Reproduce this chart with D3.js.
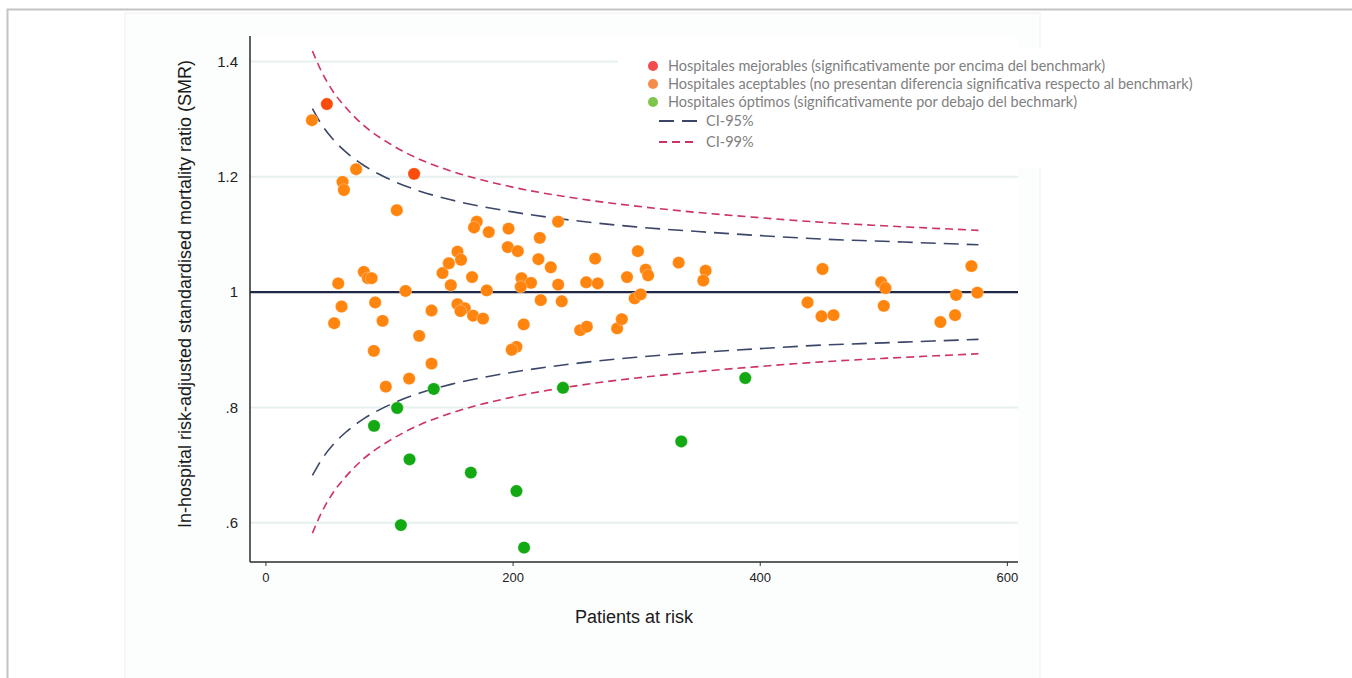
<!DOCTYPE html>
<html>
<head>
<meta charset="utf-8">
<script src="https://cdn.jsdelivr.net/npm/d3@7"></script>
<style>
body { margin: 0; background: #fff; }
.tick text { font-family: "Liberation Sans", Arial, sans-serif; fill: #222; }
.legend text { font-family: Lato, "Open Sans", sans-serif; fill: #7f7f7f; }
</style>
</head>
<body>
<div id="chart"></div>
<script>
//
// Data
//
// [patients at risk, SMR]
var mejorables = [[49.7, 1.326], [120.3, 1.205]];

var aceptables = [
    [37.6, 1.298], [73.4, 1.213], [62.4, 1.191], [63.5, 1.177], [106.3, 1.142],
    [58.9, 1.015], [61.6, 0.975], [55.6, 0.946], [79.6, 1.035], [82.9, 1.024],
    [85.9, 1.024], [88.8, 0.982], [94.8, 0.950], [87.7, 0.898], [97.4, 0.836],
    [113.4, 1.002], [116.3, 0.850], [124.4, 0.924], [134.4, 0.968], [134.4, 0.876],
    [143.3, 1.033], [148.4, 1.050], [155.4, 1.070], [158.3, 1.056], [150.0, 1.012],
    [167.2, 1.026], [155.4, 0.979], [161.3, 0.972], [157.8, 0.967], [168.0, 0.959],
    [176.1, 0.954], [179.1, 1.003], [171.0, 1.122], [168.8, 1.112], [180.7, 1.104],
    [196.7, 1.110], [196.1, 1.078], [204.2, 1.071], [222.0, 1.094], [220.9, 1.057],
    [230.9, 1.043], [236.8, 1.122], [207.2, 1.024], [214.9, 1.016], [206.6, 1.009],
    [236.9, 1.013], [222.8, 0.986], [239.8, 0.984], [209.0, 0.944], [203.1, 0.905],
    [199.3, 0.900], [266.8, 1.058], [259.6, 1.017], [268.9, 1.015], [254.7, 0.934],
    [260.1, 0.940], [284.6, 0.937], [288.4, 0.953], [292.6, 1.026], [298.8, 0.989],
    [303.6, 0.996], [301.4, 1.071], [307.7, 1.039], [309.7, 1.029], [334.4, 1.051],
    [356.2, 1.037], [354.3, 1.020], [450.8, 1.040], [438.7, 0.982], [450.0, 0.958],
    [459.7, 0.960], [498.3, 1.017], [501.7, 1.007], [500.4, 0.976], [571.3, 1.045],
    [558.9, 0.995], [576.1, 0.999], [558.1, 0.960], [546.2, 0.948]
];

var optimos = [
    [136.2, 0.832], [106.6, 0.799], [87.9, 0.768], [116.6, 0.710], [166.2, 0.687],
    [203.1, 0.655], [109.6, 0.596], [209.3, 0.557], [240.8, 0.834], [388.3, 0.851],
    [336.5, 0.741]
];

// funnel limits
var ciN       = [38, 45, 55, 65, 80, 100, 125, 150, 200, 250, 300, 350, 400, 450, 500, 577];
var ci95Upper = [1.318, 1.292, 1.264, 1.243, 1.219, 1.196, 1.175, 1.160, 1.139, 1.124, 1.113, 1.105, 1.098, 1.092, 1.088, 1.082];
var ci95Lower = [0.682, 0.708, 0.736, 0.757, 0.781, 0.804, 0.825, 0.840, 0.861, 0.876, 0.887, 0.895, 0.902, 0.908, 0.912, 0.918];
var ci99Upper = [1.418, 1.384, 1.347, 1.320, 1.288, 1.258, 1.230, 1.210, 1.182, 1.163, 1.149, 1.138, 1.129, 1.121, 1.115, 1.107];
var ci99Lower = [0.582, 0.616, 0.653, 0.680, 0.712, 0.742, 0.770, 0.790, 0.818, 0.837, 0.851, 0.862, 0.871, 0.879, 0.885, 0.893];

var xTicks = [0, 200, 400, 600];
var yTicks = [0.6, 0.8, 1, 1.2, 1.4];
var benchmark = 1;

var legendItems = [
    {label: "Hospitales mejorables (significativamente por encima del benchmark)", color: "#f24b4b"},
    {label: "Hospitales aceptables (no presentan diferencia significativa respecto al benchmark)", color: "#f68b4a"},
    {label: "Hospitales óptimos (significativamente por debajo del bechmark)", color: "#7fc54d"}
];

//
// Global Vars
//
var W = 1352, H = 678;
var margin = {top: 36, right: 334, bottom: 116, left: 250},
    width  = W - margin.left - margin.right,
    height = H - margin.top - margin.bottom;

var blue = "#3b4668", crimson = "#cc3360";

var svg = d3.select("#chart").append("svg")
    .attr("width", W)
    .attr("height", H);

// page frame
svg.append("rect")
    .attr("x", 125).attr("y", 13)
    .attr("width", 915).attr("height", H)
    .attr("fill", "#fcfdfd")
    .attr("stroke", "#eef2f2");
svg.append("path")
    .attr("d", "M7.5," + H + "V9.5H" + W)
    .attr("fill", "none")
    .attr("stroke", "#c4c4c4")
    .attr("stroke-width", 2);

var g = svg.append("g")
    .attr("transform", "translate(" + margin.left + "," + margin.top + ")");

g.append("rect")
    .attr("width", width).attr("height", height)
    .attr("fill", "#fff");

var x = d3.scaleLinear().domain([-12.5, 609]).range([0, width]);
var y = d3.scaleLinear().domain([0.532, 1.444]).range([height, 0]);

// gridlines
g.append("g").selectAll("line")
    .data(yTicks.filter(function(d) { return d != benchmark; }))
    .enter().append("line")
    .attr("x1", 0).attr("x2", width)
    .attr("y1", function(d) { return y(d); })
    .attr("y2", function(d) { return y(d); })
    .attr("stroke", "#e6f0ef")
    .attr("stroke-width", 2);

// legend background hides the top gridline
g.append("rect")
    .attr("x", 368).attr("y", 12)
    .attr("width", 430).attr("height", 120)
    .attr("fill", "#fff");

// benchmark line
g.append("line")
    .attr("x1", 0).attr("x2", width)
    .attr("y1", y(benchmark)).attr("y2", y(benchmark))
    .attr("stroke", "#1f2947")
    .attr("stroke-width", 2.2);

// funnel curves
function funnel(values, color, dash) {
    var line = d3.line()
        .x(function(d, i) { return x(ciN[i]); })
        .y(function(d) { return y(d); })
        .curve(d3.curveMonotoneX);
    g.append("path")
        .datum(values)
        .attr("d", line)
        .attr("fill", "none")
        .attr("stroke", color)
        .attr("stroke-width", 1.6)
        .attr("stroke-dasharray", dash);
}
funnel(ci99Upper, crimson, "8,5");
funnel(ci99Lower, crimson, "8,5");
funnel(ci95Upper, blue, "15,8");
funnel(ci95Lower, blue, "15,8");

// axes
var yAxis = d3.axisLeft(y)
    .tickValues(yTicks)
    .tickSize(0)
    .tickPadding(12)
    .tickFormat(function(d) { return d == 1 ? "1" : d3.format(".1f")(d).replace(/^0/, ""); });

var xAxis = d3.axisBottom(x)
    .tickValues(xTicks)
    .tickSize(4)
    .tickSizeOuter(0)
    .tickPadding(7);

var gy = g.append("g").call(yAxis);
gy.select(".domain").remove();
gy.selectAll("text").style("font-size", "15px");

var gx = g.append("g")
    .attr("transform", "translate(0," + height + ")")
    .call(xAxis);
gx.select(".domain").remove();
gx.selectAll("line").attr("stroke", "#333");
gx.selectAll("text").style("font-size", "13px");

g.append("line")
    .attr("x1", 0).attr("x2", 0)
    .attr("y1", 0).attr("y2", height)
    .attr("stroke", "#2b2b2b").attr("stroke-width", 1.5);
g.append("line")
    .attr("x1", 0).attr("x2", width)
    .attr("y1", height).attr("y2", height)
    .attr("stroke", "#2b2b2b").attr("stroke-width", 1.5);

// axis titles
svg.append("text")
    .attr("transform", "translate(191,294) rotate(-90)")
    .attr("text-anchor", "middle")
    .style("font-family", "'Liberation Sans', Arial, sans-serif")
    .style("font-size", "18px")
    .attr("fill", "#1a1a1a")
    .text("In-hospital risk-adjusted standardised mortality ratio (SMR)");

svg.append("text")
    .attr("x", 634).attr("y", 623)
    .attr("text-anchor", "middle")
    .style("font-family", "'Liberation Sans', Arial, sans-serif")
    .style("font-size", "18px")
    .attr("fill", "#1a1a1a")
    .text("Patients at risk");

// points
function dots(data, color) {
    g.append("g").selectAll("circle")
        .data(data)
        .enter().append("circle")
        .attr("cx", function(d) { return x(d[0]); })
        .attr("cy", function(d) { return y(d[1]); })
        .attr("r", 6.2)
        .attr("fill", color)
        .attr("stroke", "#fff")
        .attr("stroke-opacity", 0.5)
        .attr("stroke-width", 0.6);
}
dots(aceptables, "#ff850f");
dots(optimos, "#13a913");
dots(mejorables, "#fb4c0c");

// legend
var legend = svg.append("g").attr("class", "legend");

legend.selectAll("circle")
    .data(legendItems)
    .enter().append("circle")
    .attr("cx", 653)
    .attr("cy", function(d, i) { return 66 + i * 18; })
    .attr("r", 5)
    .attr("fill", function(d) { return d.color; });

legend.selectAll("text.item")
    .data(legendItems)
    .enter().append("text")
    .attr("class", "item")
    .attr("x", 668)
    .attr("y", function(d, i) { return 71 + i * 18; })
    .style("font-size", "14.5px")
    .text(function(d) { return d.label; });

var ciLegend = [
    {label: "CI-95%", color: blue, dash: "15,8", y: 121},
    {label: "CI-99%", color: crimson, dash: "8,5", y: 142}
];
ciLegend.forEach(function(d) {
    legend.append("line")
        .attr("x1", 659).attr("x2", 697)
        .attr("y1", d.y).attr("y2", d.y)
        .attr("stroke", d.color)
        .attr("stroke-width", 2)
        .attr("stroke-dasharray", d.dash);
    legend.append("text")
        .attr("x", 706)
        .attr("y", d.y + 5)
        .style("font-size", "14.5px")
        .text(d.label);
});
</script>
</body>
</html>
